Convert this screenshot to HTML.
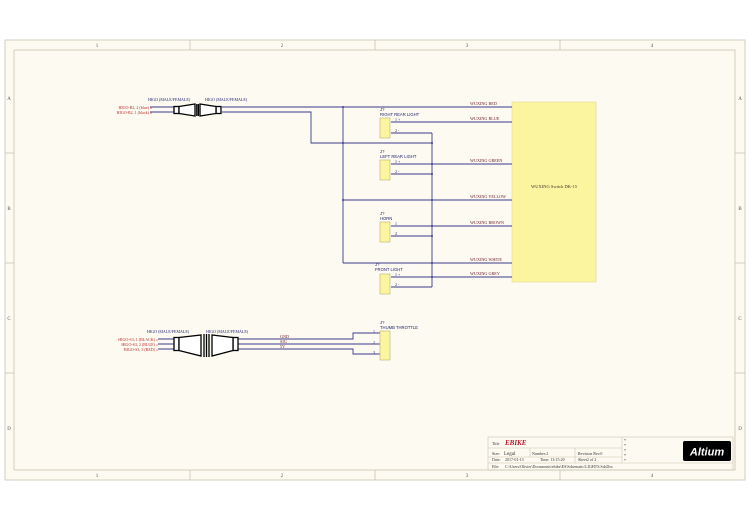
<!DOCTYPE html>
<html><head><style>body{margin:0;background:#fff}svg{display:block}text{font-family:"Liberation Serif",serif}</style></head><body>
<svg width="750" height="520" viewBox="0 0 750 520" xmlns="http://www.w3.org/2000/svg">
<rect x="0" y="0" width="750" height="520" fill="#fff"/>
<rect x="5" y="40" width="740" height="440" fill="#fdfbf1" stroke="#c8c2b0" stroke-width="0.8"/>
<rect x="14" y="50" width="721" height="420" fill="#fdfbf1" stroke="#c8c2b0" stroke-width="0.8"/>
<g stroke="#c8c2b0" stroke-width="0.8">
<line x1="190" y1="40" x2="190" y2="50"/><line x1="375" y1="40" x2="375" y2="50"/><line x1="560" y1="40" x2="560" y2="50"/>
<line x1="190" y1="470" x2="190" y2="480"/><line x1="375" y1="470" x2="375" y2="480"/><line x1="560" y1="470" x2="560" y2="480"/>
<line x1="5" y1="153" x2="14" y2="153"/><line x1="5" y1="263" x2="14" y2="263"/><line x1="5" y1="373" x2="14" y2="373"/>
<line x1="735" y1="153" x2="745" y2="153"/><line x1="735" y1="263" x2="745" y2="263"/><line x1="735" y1="373" x2="745" y2="373"/>
</g>
<g font-size="5" fill="#555" text-anchor="middle">
<text x="97" y="47">1</text><text x="282" y="47">2</text><text x="467" y="47">3</text><text x="652" y="47">4</text>
<text x="97" y="477">1</text><text x="282" y="477">2</text><text x="467" y="477">3</text><text x="652" y="477">4</text>
<text x="9" y="100">A</text><text x="9" y="210">B</text><text x="9" y="320">C</text><text x="9" y="430">D</text>
<text x="740" y="100">A</text><text x="740" y="210">B</text><text x="740" y="320">C</text><text x="740" y="430">D</text>
</g>
<rect x="512" y="102" width="84" height="180" fill="#fcf5a0" stroke="#e0d890" stroke-width="0.6"/>
<text x="554" y="188" font-size="4.5" fill="#333" text-anchor="middle">WUXING Switch DK-15</text>
<g stroke="#3a3a8c" stroke-width="0.9" fill="none">
<line x1="222" y1="107" x2="512" y2="107"/>
<polyline points="222,112 311,112 311,143 432,143"/>
<line x1="343" y1="107" x2="343" y2="263"/>
<line x1="432" y1="133" x2="432" y2="287"/>
<line x1="391" y1="122" x2="512" y2="122"/>
<line x1="391" y1="133" x2="432" y2="133"/>
<line x1="391" y1="164" x2="512" y2="164"/>
<line x1="391" y1="174" x2="432" y2="174"/>
<line x1="343" y1="200" x2="512" y2="200"/>
<line x1="391" y1="226" x2="512" y2="226"/>
<line x1="391" y1="236" x2="432" y2="236"/>
<line x1="343" y1="263" x2="512" y2="263"/>
<line x1="391" y1="277" x2="512" y2="277"/>
<line x1="391" y1="287" x2="432" y2="287"/>
<line x1="150" y1="107" x2="175" y2="107"/><line x1="150" y1="112" x2="175" y2="112"/>
<polyline points="238,339 353,339 353,333 380,333"/>
<polyline points="238,344 380,344"/>
<polyline points="238,349 353,349 353,354 380,354"/>
<line x1="158" y1="339" x2="175" y2="339"/><line x1="158" y1="344" x2="175" y2="344"/><line x1="158" y1="349" x2="175" y2="349"/>
</g>
<g fill="#3a3a8c">
<circle cx="343" cy="107" r="1"/><circle cx="343" cy="143" r="1"/><circle cx="343" cy="200" r="1"/>
<circle cx="432" cy="143" r="1"/><circle cx="432" cy="164" r="1"/><circle cx="432" cy="174" r="1"/><circle cx="432" cy="200" r="1"/>
<circle cx="432" cy="226" r="1"/><circle cx="432" cy="236" r="1"/><circle cx="432" cy="263" r="1"/><circle cx="432" cy="277" r="1"/>
</g>
<g stroke="#000" stroke-width="1.3" fill="#fff">
<rect x="174" y="106.5" width="5" height="7"/>
<path d="M179,106.5 L195,104 L195,116 L179,113.5Z"/>
<rect x="216" y="106.5" width="5" height="7"/>
<path d="M216,106.5 L200,104 L200,116 L216,113.5Z"/>
<line x1="196.8" y1="104" x2="196.8" y2="116"/><line x1="198.4" y1="104" x2="198.4" y2="116"/>
<rect x="174" y="337.5" width="5" height="13"/>
<path d="M179,337.5 L201,335 L201,356 L179,350.5Z"/>
<rect x="233" y="337.5" width="5" height="13"/>
<path d="M233,337.5 L212,335 L212,356 L233,350.5Z"/>
<line x1="204" y1="334" x2="204" y2="357"/><line x1="206.5" y1="334" x2="206.5" y2="357"/><line x1="209" y1="334" x2="209" y2="357"/>
</g>
<g font-size="4" fill="#1a1a6e">
<text x="148" y="101">HIGO (MALE/FEMALE)</text><text x="205" y="101">HIGO (MALE/FEMALE)</text>
<text x="147" y="333">HIGO (MALE/FEMALE)</text><text x="206" y="333">HIGO (MALE/FEMALE)</text>
</g>
<g font-size="4" fill="#c0282a" text-anchor="end">
<text x="152" y="109">HIGO-B2, 2 (blue) »</text><text x="152" y="114">HIGO-B2, 1 (black) »</text>
<text x="158" y="341">HIGO-S3, 1 (BLACK) »</text><text x="158" y="346">HIGO-S3, 2 (BLUE) »</text><text x="158" y="351">HIGO-S3, 3 (RED) »</text>
</g>
<g fill="#fcf5a0" stroke="#b8b070" stroke-width="0.6">
<rect x="380" y="118" width="10" height="20"/><rect x="380" y="160" width="10" height="20"/>
<rect x="380" y="222" width="10" height="20"/><rect x="380" y="274" width="10" height="20"/>
<rect x="380" y="331" width="10" height="29"/>
</g>
<g font-size="4.2" fill="#1a1a6e">
<text x="380" y="111" style="font-family:'Liberation Sans',sans-serif">J?</text><text x="380" y="116" style="font-family:'Liberation Sans',sans-serif">RIGHT REAR LIGHT</text>
<text x="380" y="153" style="font-family:'Liberation Sans',sans-serif">J?</text><text x="380" y="158" style="font-family:'Liberation Sans',sans-serif">LEFT REAR LIGHT</text>
<text x="380" y="215" style="font-family:'Liberation Sans',sans-serif">J?</text><text x="380" y="220" style="font-family:'Liberation Sans',sans-serif">HORN</text>
<text x="375" y="266" style="font-family:'Liberation Sans',sans-serif">J?</text><text x="375" y="271" style="font-family:'Liberation Sans',sans-serif">FRONT LIGHT</text>
<text x="380" y="324" style="font-family:'Liberation Sans',sans-serif">J?</text><text x="380" y="329" style="font-family:'Liberation Sans',sans-serif">THUMB THROTTLE</text>
</g>
<g font-size="4" fill="#1a1a6e">
<text x="395" y="121">1 +</text><text x="395" y="132">2 -</text>
<text x="395" y="163">1 +</text><text x="395" y="173">2 -</text>
<text x="395" y="225">1</text><text x="395" y="235">2</text>
<text x="395" y="276">1 +</text><text x="395" y="286">2 -</text>
<text x="373" y="333">1</text><text x="373" y="344">2</text><text x="373" y="354">3</text>
</g>
<g font-size="4.2" fill="#6b2030">
<text x="470" y="105">WUXING RED</text><text x="470" y="120">WUXING BLUE</text>
<text x="470" y="162">WUXING GREEN</text><text x="470" y="198">WUXING YELLOW</text>
<text x="470" y="224">WUXING BROWN</text><text x="470" y="261">WUXING WHITE</text>
<text x="470" y="275">WUXING GREY</text>
<text x="280" y="338">GND</text><text x="280" y="343">SIG</text><text x="280" y="348">5V</text>
</g>
<g stroke="#c8c2b0" stroke-width="0.6" fill="none">
<rect x="488" y="437" width="245" height="33"/>
<line x1="488" y1="448" x2="622" y2="448"/><line x1="488" y1="457" x2="622" y2="457"/>
<line x1="488" y1="463" x2="733" y2="463"/><line x1="622" y1="437" x2="622" y2="463"/>
<line x1="530" y1="448" x2="530" y2="457"/><line x1="575" y1="448" x2="575" y2="463"/>
</g>
<rect x="683" y="441" width="48" height="20" rx="2" fill="#000"/>
<text x="707" y="455.5" font-size="11" font-weight="bold" font-style="italic" fill="#fff" text-anchor="middle" style="font-family:'Liberation Sans',sans-serif">Altium</text>
<g font-size="4" fill="#333">
<text x="492" y="445">Title</text><text x="492" y="455">Size:</text><text x="492" y="461">Date:</text><text x="492" y="468">File:</text>
<text x="504" y="455" font-size="5">Legal</text><text x="532" y="455">Number:2</text><text x="578" y="455">Revision Rev.0</text>
<text x="505" y="461">2017-01-13</text><text x="540" y="461">Time: 13:15:20</text><text x="578" y="461">Sheet2 of 2</text>
<text x="505" y="468">C:\Users\Olivier\Documents\ebike\ES\Schematic\LIGHTS.SchDoc</text>
<text x="624" y="442">*</text><text x="624" y="447">*</text><text x="624" y="452">*</text><text x="624" y="457">*</text><text x="624" y="462">*</text>
</g>
<text x="505" y="445" font-size="7" font-weight="bold" font-style="italic" fill="#b0182a">EBIKE</text>
</svg>
</body></html>
